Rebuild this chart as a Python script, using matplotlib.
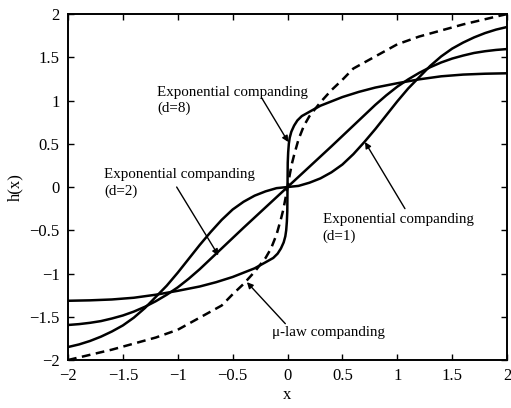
import matplotlib.pyplot as plt
import numpy as np

plt.rcParams['font.family'] = ['Liberation Serif', 'DejaVu Serif']

# Значения
# Экспоненциальное компандирование, d=1
x_d1 = [-2.0, -1.9, -1.8, -1.7, -1.6, -1.5, -1.4, -1.3, -1.2, -1.1, -1.0, -0.9, -0.8,
        -0.7, -0.6, -0.5, -0.4, -0.3, -0.2, -0.1, 0.0,
        0.1, 0.2, 0.3, 0.4, 0.5, 0.6, 0.7, 0.8, 0.9, 1.0, 1.1, 1.2, 1.3, 1.4, 1.5,
        1.6, 1.7, 1.8, 1.9, 2.0]
y_d1 = [-1.85, -1.82, -1.78, -1.73, -1.67, -1.60, -1.51, -1.40, -1.27, -1.14, -0.99,
        -0.83, -0.67, -0.52, -0.38, -0.26, -0.17, -0.10, -0.05, -0.013, 0.0,
        0.013, 0.05, 0.10, 0.17, 0.26, 0.38, 0.52, 0.67, 0.83, 0.99, 1.14, 1.27,
        1.40, 1.51, 1.60, 1.67, 1.73, 1.78, 1.82, 1.85]

# Экспоненциальное компандирование, d=2
x_d2 = [-2.0, -1.9, -1.8, -1.7, -1.6, -1.5, -1.4, -1.3, -1.2, -1.1, -1.0, -0.9, -0.8,
        -0.6, -0.4, -0.2, 0.0, 0.2, 0.4, 0.6, 0.8, 0.9, 1.0, 1.1, 1.2, 1.3, 1.4,
        1.5, 1.6, 1.7, 1.8, 1.9, 2.0]
y_d2 = [-1.595, -1.585, -1.57, -1.55, -1.52, -1.485, -1.44, -1.385, -1.32, -1.245,
        -1.16, -1.06, -0.95, -0.71, -0.47, -0.235, 0.0, 0.235, 0.47, 0.71, 0.95,
        1.06, 1.16, 1.245, 1.32, 1.385, 1.44, 1.485, 1.52, 1.55, 1.57, 1.585, 1.595]

# Экспоненциальное компандирование, d=8
x_d8 = [-2.0, -1.8, -1.6, -1.4, -1.2, -1.0, -0.8, -0.65, -0.5, -0.4, -0.3, -0.2,
        -0.13, -0.09, -0.06, -0.035, -0.02, -0.012, -0.006, -0.002, 0.0,
        0.002, 0.006, 0.012, 0.02, 0.035, 0.06, 0.09, 0.13, 0.2, 0.3, 0.4, 0.5,
        0.65, 0.8, 1.0, 1.2, 1.4, 1.6, 1.8, 2.0]
y_d8 = [-1.315, -1.31, -1.30, -1.28, -1.245, -1.20, -1.15, -1.10, -1.04, -0.99,
        -0.94, -0.87, -0.82, -0.77, -0.71, -0.64, -0.57, -0.50, -0.40, -0.28, 0.0,
        0.28, 0.40, 0.50, 0.57, 0.64, 0.71, 0.77, 0.82, 0.87, 0.94, 0.99, 1.04,
        1.10, 1.15, 1.20, 1.245, 1.28, 1.30, 1.31, 1.315]

# mu-law компандирование
x_mu = [-2.0, -1.8, -1.6, -1.4, -1.2, -1.0, -0.8, -0.6, -0.5, -0.4, -0.3, -0.2,
        -0.15, -0.1, -0.06, -0.04, -0.02, 0.0, 0.02, 0.04, 0.06, 0.1, 0.15, 0.2,
        0.3, 0.4, 0.5, 0.6, 0.8, 1.0, 1.2, 1.4, 1.6, 1.8, 2.0]
y_mu = [-2.0, -1.94, -1.88, -1.81, -1.74, -1.65, -1.51, -1.37, -1.24, -1.12, -0.98,
        -0.82, -0.71, -0.55, -0.37, -0.27, -0.14, 0.0, 0.14, 0.27, 0.37, 0.55, 0.71,
        0.82, 0.98, 1.12, 1.24, 1.37, 1.51, 1.65, 1.74, 1.81, 1.88, 1.94, 2.0]

ticks = [-2, -1.5, -1, -0.5, 0, 0.5, 1, 1.5, 2]
tick_labels = ['\u22122', '\u22121.5', '\u22121', '\u22120.5', '0', '0.5', '1', '1.5', '2']

fig = plt.figure(figsize=(5.11, 4.08), dpi=100)
ax = fig.add_axes([0.1331, 0.1176, 0.8591, 0.848])

ax.plot(x_d1, y_d1, color='black', linewidth=1.8)
ax.plot(x_d2, y_d2, color='black', linewidth=1.8)
ax.plot(x_d8, y_d8, color='black', linewidth=1.8)
ax.plot(x_mu, y_mu, color='black', linewidth=1.8, linestyle=(0, (3.5, 2.2)))

ax.set_xlim(-2, 2)
ax.set_ylim(-2, 2)
ax.set_xticks(ticks)
ax.set_xticklabels(tick_labels)
ax.set_yticks(ticks)
ax.set_yticklabels(tick_labels)
ax.tick_params(direction='in', top=True, right=True, length=4, width=1,
               labelsize=12, pad=6)
for s in ax.spines.values():
    s.set_linewidth(1.4)

ax.set_xlabel('x', fontsize=12, labelpad=2)
ax.set_ylabel('h(x)', fontsize=12, labelpad=4)

arrow = dict(arrowstyle='-|>', color='black', lw=1.0, mutation_scale=9,
             shrinkA=0, shrinkB=0)
fs = 10.8

# Подписи со стрелками
ax.text(-1.19, 1.09, 'Exponential companding', fontsize=fs, va='center')
ax.text(-1.19, 0.91, '(d=8)', fontsize=fs, va='center')
ax.annotate('', xy=(0.007, 0.52), xytext=(-0.235, 1.03), arrowprops=arrow)

ax.text(-1.67, 0.15, 'Exponential companding', fontsize=fs, va='center')
ax.text(-1.67, -0.05, '(d=2)', fontsize=fs, va='center')
ax.annotate('', xy=(-0.63, -0.79), xytext=(-1.01, 0.0), arrowprops=arrow)

ax.text(0.32, -0.37, 'Exponential companding', fontsize=fs, va='center')
ax.text(0.32, -0.57, '(d=1)', fontsize=fs, va='center')
ax.annotate('', xy=(0.706, 0.52), xytext=(1.07, -0.25), arrowprops=arrow)

ax.text(-0.14, -1.68, 'μ-law companding', fontsize=fs, va='center')
ax.annotate('', xy=(-0.37, -1.1), xytext=(-0.02, -1.58), arrowprops=arrow)

plt.savefig('out.png', dpi=100)
plt.close(fig)
